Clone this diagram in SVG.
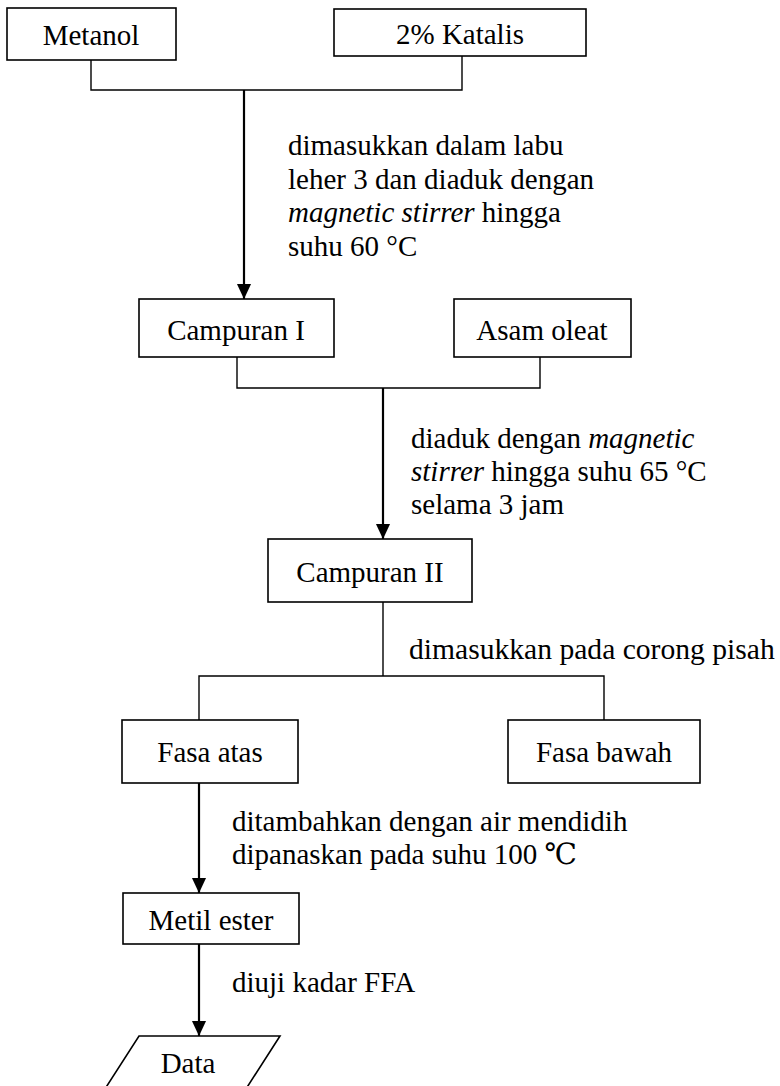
<svg xmlns="http://www.w3.org/2000/svg" width="780" height="1086" viewBox="0 0 780 1086">
<style>
  .box{fill:#fff;stroke:#000;stroke-width:1.6}
  .t{font-family:"Liberation Serif","DejaVu Serif",serif;font-size:29px;fill:#000}
  .c{text-anchor:middle}
  .ln{fill:none;stroke:#000;stroke-width:1.4}
  .ar{fill:none;stroke:#000;stroke-width:2.2}
</style>
<defs>
  <marker id="arr" markerWidth="15" markerHeight="16" refX="16" refY="7.5" orient="auto" markerUnits="userSpaceOnUse" viewBox="0 0 16 15">
    <path d="M0,0 L16,7.5 L0,15 Z" fill="#000"/>
  </marker>
</defs>
<rect width="780" height="1086" fill="#fff"/>
<g id="connectors">
  <polyline class="ln" points="91,60 91,90 462,90 462,56"/>
  <line class="ar" x1="244" y1="90" x2="244" y2="299" marker-end="url(#arr)"/>
  <polyline class="ln" points="237,357 237,388 540,388 540,357"/>
  <line class="ar" x1="383" y1="388" x2="383" y2="539" marker-end="url(#arr)"/>
  <line class="ln" x1="383" y1="602" x2="383" y2="676"/>
  <polyline class="ln" points="199,720 199,676 604,676 604,720"/>
  <line class="ar" x1="199" y1="783" x2="199" y2="893" marker-end="url(#arr)"/>
  <line class="ar" x1="199" y1="944" x2="199" y2="1036" marker-end="url(#arr)"/>
</g>
<g id="labels">
  <text class="t" x="288" y="155">dimasukkan dalam labu</text>
  <text class="t" x="288" y="189">leher 3 dan diaduk dengan</text>
  <text class="t" x="288" y="222"><tspan font-style="italic">magnetic stirrer</tspan> hingga</text>
  <text class="t" x="288" y="256">suhu 60 °C</text>
  <text class="t" x="411" y="448">diaduk dengan <tspan font-style="italic">magnetic</tspan></text>
  <text class="t" x="411" y="481"><tspan font-style="italic">stirrer</tspan> hingga suhu 65 °C</text>
  <text class="t" x="411" y="514">selama 3 jam</text>
  <text class="t" x="409" y="659" style="font-size:29.6px">dimasukkan pada corong pisah</text>
  <text class="t" x="232" y="831">ditambahkan dengan air mendidih</text>
  <text class="t" x="232" y="864">dipanaskan pada suhu 100 ℃</text>
  <text class="t" x="232" y="992">diuji kadar FFA</text>
</g>
<g id="metanol"><rect class="box" x="7" y="8" width="169" height="52"/><text class="t c" x="91" y="45">Metanol</text></g>
<g id="katalis"><rect class="box" x="334" y="9" width="252" height="47"/><text class="t c" x="460" y="44">2% Katalis</text></g>
<g id="campuran1"><rect class="box" x="139" y="299" width="195" height="58"/><text class="t c" x="236" y="340">Campuran I</text></g>
<g id="asamoleat"><rect class="box" x="454" y="299" width="177" height="58"/><text class="t c" x="542" y="340">Asam oleat</text></g>
<g id="campuran2"><rect class="box" x="268" y="539" width="204" height="63"/><text class="t c" x="370" y="582">Campuran II</text></g>
<g id="fasaatas"><rect class="box" x="122" y="720" width="176" height="63"/><text class="t c" x="210" y="762">Fasa atas</text></g>
<g id="fasabawah"><rect class="box" x="508" y="720" width="192" height="63"/><text class="t c" x="604" y="762">Fasa bawah</text></g>
<g id="metilester"><rect class="box" x="123" y="893" width="176" height="51"/><text class="t c" x="211" y="930">Metil ester</text></g>
<g id="data"><polygon class="box" points="139,1036 280,1036 244,1092 103,1092"/><text class="t c" x="188" y="1073">Data</text></g>
</svg>
